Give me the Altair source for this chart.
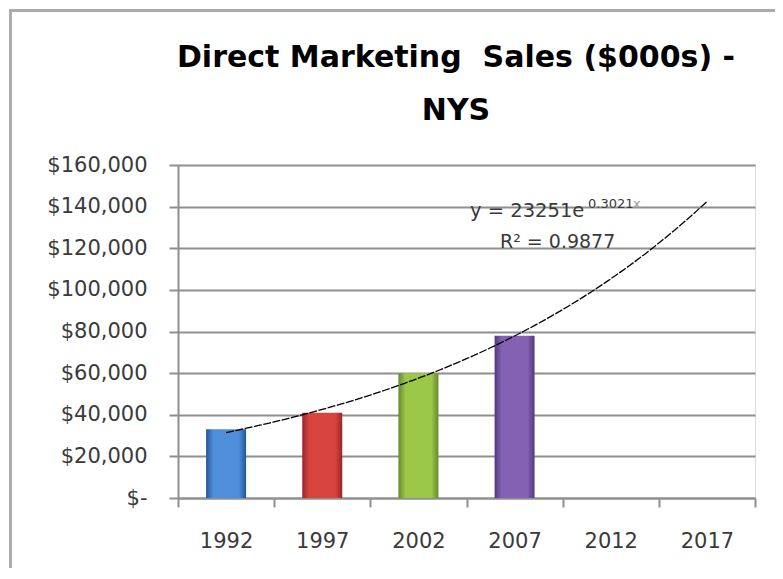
import altair as alt
import pandas as pd

# ---- data ----
years = ["1992", "1997", "2002", "2007", "2012", "2017"]
bar_years = ["1992", "1997", "2002", "2007"]
sales = [33000, 41000, 60000, 78000]
bar_light = ["#4F8EDB", "#D8453F", "#9CC84A", "#8561B4"]
bar_dark = ["#23569A", "#9A2527", "#66892A", "#543A7C"]
y_ticks = [0, 20000, 40000, 60000, 80000, 100000, 120000, 140000, 160000]
trend_a = 23251
trend_b = 0.3021
eq_main = "y = 23251e"
eq_exp = "0.3021"
eq_var = "x"
eq_r2 = "R² = 0.9877"
title_lines = ["Direct Marketing\u00a0 Sales ($000s) -", "NYS"]

W, H = 577, 333
GRID = "#8F8F8F"
LABEL = "#3A3A3A"
FONT = "DejaVu Sans"

xscale = alt.Scale(domain=years, paddingInner=0, paddingOuter=0)
yscale = alt.Scale(domain=[0, 160000], nice=False)

xaxis = alt.Axis(title=None, labelAngle=0, tickBand="extent", tickSize=9,
                 tickColor=GRID, tickWidth=2, domainColor=GRID, domainWidth=2,
                 labelFont=FONT, labelFontSize=21, labelColor=LABEL,
                 labelPadding=23, grid=False, orient="bottom")
yaxis = alt.Axis(title=None, values=y_ticks, tickSize=9, tickColor=GRID, tickWidth=2,
                 domainColor=GRID, domainWidth=2, grid=True, gridColor=GRID,
                 gridWidth=2, labelFont=FONT, labelFontSize=21, labelColor=LABEL,
                 labelPadding=22,
                 labelExpr="datum.value == 0 ? '$-\u2007' : '$' + format(datum.value, ',')")

bar_layers = []
for yr, val, lc, dc in zip(bar_years, sales, bar_light, bar_dark):
    df = pd.DataFrame({"year": [yr], "sales": [val]})
    grad = alt.LinearGradient(
        gradient="linear", x1=0, x2=1, y1=0, y2=0,
        stops=[alt.GradientStop(offset=0, color=dc),
               alt.GradientStop(offset=0.18, color=lc),
               alt.GradientStop(offset=0.5, color=lc),
               alt.GradientStop(offset=0.82, color=lc),
               alt.GradientStop(offset=1, color=dc)])
    bar_layers.append(
        alt.Chart(df).mark_bar(size=40, color=grad).encode(
            x=alt.X("year:N", scale=xscale, axis=xaxis, sort=years),
            y=alt.Y("sales:Q", scale=yscale, axis=yaxis),
        )
    )
bars = alt.layer(*bar_layers)

trend = alt.Chart(alt.sequence(1, 6.001, 0.05, as_="t")).transform_calculate(
    v=f"{trend_a} * exp({trend_b} * datum.t)"
).mark_line(color="black", strokeWidth=1.3, strokeDash=[8, 1.5]).encode(
    x=alt.X("t:Q", scale=alt.Scale(domain=[0.5, 6.5], nice=False, zero=False), axis=None),
    y=alt.Y("v:Q", scale=yscale, axis=yaxis),
)

one = pd.DataFrame({"k": [0]})


def txt(s, x, y, size, color=LABEL, font=FONT, weight="normal", align="left"):
    return alt.Chart(one).mark_text(text=s, font=font, fontSize=size, color=color,
                                    fontWeight=weight, align=align,
                                    baseline="alphabetic").encode(
        x=alt.value(x), y=alt.value(y))


eq = [
    txt(eq_main, 292, 52, 19.5),
    txt(eq_exp, 410, 43, 13),
    txt(eq_var, 455, 43, 13, "#9A9A9A"),
    txt(eq_r2, 322, 83, 19),
]

title = [
    txt(title_lines[0], 278, -98, 30, "black", FONT, "bold", "center"),
    txt(title_lines[1], 278, -45, 30, "black", FONT, "bold", "center"),
]

border_v = alt.Chart(one).mark_rule(color="#ABABAB", strokeWidth=3).encode(
    x=alt.value(-167.5), y=alt.value(-156), y2=alt.value(500))
border_h = alt.Chart(one).mark_rule(color="#ABABAB", strokeWidth=3).encode(
    x=alt.value(-169), x2=alt.value(700), y=alt.value(-154.5))

chart = alt.layer(bars, trend, *eq, *title, border_v, border_h).resolve_scale(
    x="independent"
).properties(
    width=W, height=H,
    autosize=alt.AutoSizeParams(type="none"),
    padding={"left": 170, "top": 157, "right": 20, "bottom": 70},
).configure_view(stroke=None).configure(background="white")

chart.save("out.html", embed_options={"renderer": "svg", "actions": False})
